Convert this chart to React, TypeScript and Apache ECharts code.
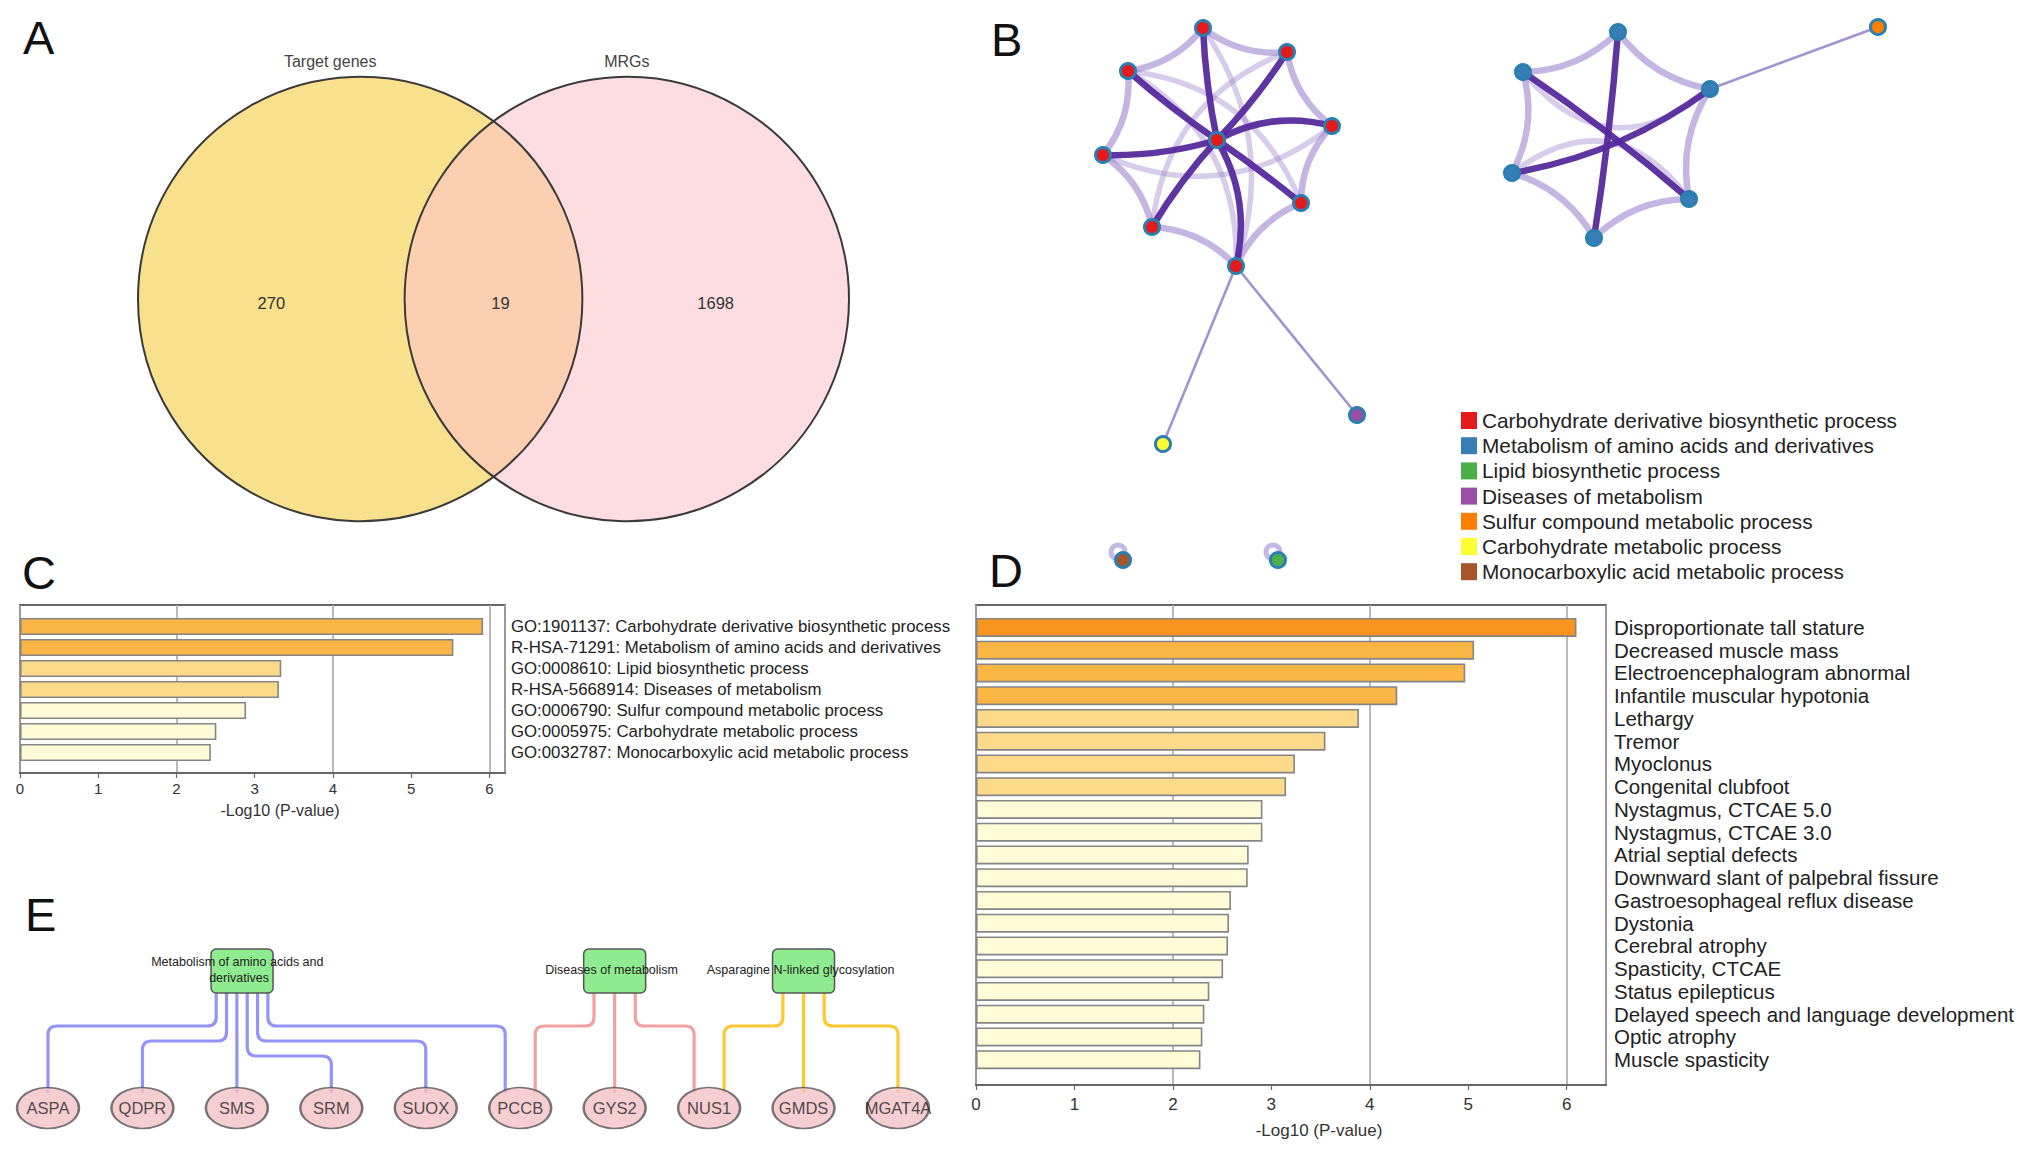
import React, { useEffect, useRef } from "react";
import * as echarts from "echarts";

const FONT = "'Liberation Sans', Arial, Helvetica, sans-serif";

// ---------------- Panel A : Venn ----------------
const vennSetNames = ["Target genes", "MRGs"];
const vennRegionCounts = [270, 19, 1698]; // only left, both, only right
const vennFill = ["#F9E08C", "#FDDDE2", "#FBCFAF"];
const VENN_CX = [1, 2.2]; // layout units (radius = 1)

// ---------------- Panel B : network ----------------
const netCategories = [
  "Carbohydrate derivative biosynthetic process",
  "Metabolism of amino acids and derivatives",
  "Lipid biosynthetic process",
  "Diseases of metabolism",
  "Sulfur compound metabolic process",
  "Carbohydrate metabolic process",
  "Monocarboxylic acid metabolic process",
];
const netCategoryColors = ["#E41A1C", "#377EB8", "#4DAF4A", "#984EA3", "#FF7F00", "#FFFF33", "#A65628"];
// layout coordinates of the nodes
const netNodeX = [217, 203, 287, 128, 332, 103, 301, 152, 236, 163, 357, 618, 523, 710, 512, 689, 594, 878, 123, 278];
const netNodeY = [140, 28, 52, 71, 126, 155, 203, 227, 266, 444, 415, 32, 72, 89, 173, 199, 238, 27, 560, 560];
const netNodeCategory = [0, 0, 0, 0, 0, 0, 0, 0, 0, 5, 3, 1, 1, 1, 1, 1, 1, 4, 6, 2];
const netStrongLinks = [[0, 1], [0, 2], [0, 3], [0, 4], [0, 5], [0, 6], [0, 7], [0, 8], [11, 16], [12, 15], [14, 13]];
const netRingLinks = [[1, 2], [2, 4], [4, 6], [6, 8], [8, 7], [7, 5], [5, 3], [3, 1], [11, 13], [13, 15], [15, 16], [16, 14], [14, 12], [12, 11]];
const netInnerLinks = [[1, 8], [3, 6], [5, 4], [2, 7], [3, 8], [12, 13], [15, 14]];
const netThinLinks = [[8, 9], [8, 10], [13, 17]];
const netSelfLoopNodes = [18, 19];
// style: curvature of the links
const strongCurve = [0.04, -0.05, 0.03, 0.2, 0.08, 0.02, -0.05, 0.2, 0.02, 0.03, -0.12];
const innerCurve = [0.25, 0.3, -0.3, -0.3, 0.3, -0.5, -0.5];

// ---------------- Panel C ----------------
const cTerms = [
  "GO:1901137: Carbohydrate derivative biosynthetic process",
  "R-HSA-71291: Metabolism of amino acids and derivatives",
  "GO:0008610: Lipid biosynthetic process",
  "R-HSA-5668914: Diseases of metabolism",
  "GO:0006790: Sulfur compound metabolic process",
  "GO:0005975: Carbohydrate metabolic process",
  "GO:0032787: Monocarboxylic acid metabolic process",
];
const cValues = [5.92, 5.54, 3.34, 3.31, 2.89, 2.51, 2.44];
const cLevel = [1, 1, 2, 2, 3, 3, 3];

// ---------------- Panel D ----------------
const dTerms = [
  "Disproportionate tall stature",
  "Decreased muscle mass",
  "Electroencephalogram abnormal",
  "Infantile muscular hypotonia",
  "Lethargy",
  "Tremor",
  "Myoclonus",
  "Congenital clubfoot",
  "Nystagmus, CTCAE 5.0",
  "Nystagmus, CTCAE 3.0",
  "Atrial septial defects",
  "Downward slant of palpebral fissure",
  "Gastroesophageal reflux disease",
  "Dystonia",
  "Cerebral atrophy",
  "Spasticity, CTCAE",
  "Status epilepticus",
  "Delayed speech and language development",
  "Optic atrophy",
  "Muscle spasticity",
];
const dValues = [6.1, 5.06, 4.97, 4.28, 3.89, 3.55, 3.24, 3.15, 2.91, 2.91, 2.77, 2.76, 2.59, 2.57, 2.56, 2.51, 2.37, 2.32, 2.3, 2.28];
const dLevel = [0, 1, 1, 1, 2, 2, 2, 2, 3, 3, 3, 3, 3, 3, 3, 3, 3, 3, 3, 3];
const barPalette = ["#F7941D", "#FBB545", "#FDDA8A", "#FEFBD6"];
const pTicks = [0, 1, 2, 3, 4, 5, 6];

// ---------------- Panel E ----------------
const eGenes = ["ASPA", "QDPR", "SMS", "SRM", "SUOX", "PCCB", "GYS2", "NUS1", "GMDS", "MGAT4A"];
const eParents = ["Metabolism of amino acids and derivatives", "Diseases of metabolism", "Asparagine N-linked glycosylation"];
const eParentAnchor = ["SMS", "GYS2", "GMDS"];
const eChildren = [
  ["ASPA", "QDPR", "SMS", "SRM", "SUOX", "PCCB"],
  ["PCCB", "GYS2", "NUS1"],
  ["NUS1", "GMDS", "MGAT4A"],
];
const eEdgeColors = ["#9494F8", "#F3A0A0", "#FFC92E"];

const BOX_W = 62;
const BOX_H = 44;

function parentOffset(p: number) {
  const kids = eChildren[p];
  const n = kids.length;
  const i = kids.indexOf(eParentAnchor[p]);
  return (i - (n - 1) / 2) * (BOX_W / n);
}

function elbow(sx: number, sy: number, hy: number, ex: number, ey: number, r: number) {
  if (Math.abs(sx - ex) < 1) return `M${sx},${sy}L${ex},${ey}`;
  const dir = ex > sx ? 1 : -1;
  const rr = Math.min(r, Math.abs(ex - sx) / 2);
  return `M${sx},${sy}L${sx},${hy - rr}Q${sx},${hy} ${sx + dir * rr},${hy}L${ex - dir * rr},${hy}Q${ex},${hy} ${ex},${hy + rr}L${ex},${ey}`;
}

function buildOption(): any {
  // ---- E edges from the data ----
  const eEdgeData: number[][] = [];
  eChildren.forEach((kids, p) => {
    const anchor = eGenes.indexOf(eParentAnchor[p]);
    const n = kids.length;
    kids.forEach((kid, i) => {
      const ci = eGenes.indexOf(kid);
      const level = ci < anchor ? i : ci > anchor ? n - 1 - i : 0;
      const owners = eChildren.map((k, pi) => (k.includes(kid) ? pi : -1)).filter((v) => v >= 0);
      const side = owners.length > 1 ? (owners.indexOf(p) === 0 ? -1 : 1) : 0;
      eEdgeData.push([anchor, 0, ci, i, n, level, side, p]);
    });
  });

  // ---- network ----
  const nodes = netNodeX.map((x, i) => ({
    name: "n" + i,
    value: [x, netNodeY[i]],
    category: netNodeCategory[i],
  }));
  const links: any[] = [];
  netRingLinks.forEach(([s, t]) =>
    links.push({ source: s, target: t, lineStyle: { color: "#9F88D0", opacity: 0.62, width: 6.5, curveness: -0.2 } })
  );
  netInnerLinks.forEach(([s, t], k) =>
    links.push({ source: s, target: t, lineStyle: { color: "#9F88D0", opacity: 0.42, width: 5.5, curveness: innerCurve[k] } })
  );
  netThinLinks.forEach(([s, t]) =>
    links.push({ source: s, target: t, lineStyle: { color: "#8A78C6", opacity: 0.8, width: 2.6, curveness: 0 } })
  );
  netStrongLinks.forEach(([s, t], k) =>
    links.push({ source: s, target: t, lineStyle: { color: "#552A9C", opacity: 0.95, width: 6.5, curveness: strongCurve[k] } })
  );

  const letter = (t: string, x: number, y: number) => ({
    type: "text",
    x,
    y,
    style: { text: t, fontSize: 47, fontFamily: FONT, fill: "#111", align: "left", verticalAlign: "middle" },
  });

  const hiddenVal = (gridIndex: number, min: number, max: number, inverse = false) => ({
    type: "value",
    gridIndex,
    min,
    max,
    inverse,
    show: false,
  });

  const frameBottomAxis = (gridIndex: number, max: number, fontSize: number, margin: number, nameGap: number, nameShift: number, nameSize: number) => ({
    type: "value",
    gridIndex,
    min: 0,
    max,
    interval: 1,
    position: "bottom",
    axisLine: { show: true, lineStyle: { color: "#666", width: 2 } },
    axisTick: { show: true, length: 5, lineStyle: { color: "#666", width: 1.2 } },
    axisLabel: {
      show: true,
      fontSize,
      color: "#333",
      margin,
      showMaxLabel: false,
      formatter: (v: number) => (pTicks.includes(v) ? String(v) : ""),
    },
    splitLine: { show: false },
    name: "-Log10 (P-value)",
    nameLocation: "middle",
    nameGap,
    nameTextStyle: { fontSize: nameSize, color: "#333", padding: [0, 0, 0, nameShift] },
  });

  const frameTopAxis = (gridIndex: number, max: number) => ({
    type: "value",
    gridIndex,
    min: 0,
    max,
    interval: 2,
    position: "top",
    axisLine: { show: false },
    axisTick: { show: false },
    axisLabel: { show: false },
    splitLine: { show: true, lineStyle: { color: "#A8A8A8", width: 1.6 } },
  });

  const catAxis = (gridIndex: number, data: string[], fontSize: number, margin: number) => ({
    type: "category",
    gridIndex,
    data,
    inverse: true,
    position: "right",
    axisLine: { show: false },
    axisTick: { show: false },
    axisLabel: { show: true, interval: 0, fontSize, color: "#222", margin, align: "left" },
    splitLine: { show: false },
  });

  const barStyle = { borderColor: "#858585", borderWidth: 1.6 };

  return {
    animation: false,
    backgroundColor: "#ffffff",
    textStyle: { fontFamily: FONT },
    graphic: [letter("A", 23, 37), letter("B", 991, 39), letter("C", 22, 572), letter("D", 989, 570), letter("E", 25, 914)],
    legend: {
      data: netCategories,
      orient: "vertical",
      left: 1456,
      top: 405,
      itemWidth: 16,
      itemHeight: 17,
      itemGap: 4.2,
      icon: "rect",
      selectedMode: false,
      itemStyle: { borderWidth: 0 },
      textStyle: { fontSize: 20.8, color: "#222", fontFamily: FONT },
    },
    grid: [
      { left: 138, top: 77, width: 711, height: 444, show: false, outerBoundsMode: "none" },
      { left: 1000, top: 0, width: 1000, height: 600, show: false, outerBoundsMode: "none" },
      { left: 20, top: 605, width: 485, height: 168, show: true, borderColor: "#666", borderWidth: 2, backgroundColor: "transparent", outerBoundsMode: "none" },
      { left: 20, top: 616, width: 485, height: 147, show: false, outerBoundsMode: "none" },
      { left: 976, top: 605, width: 630, height: 480, show: true, borderColor: "#666", borderWidth: 2, backgroundColor: "transparent", outerBoundsMode: "none" },
      { left: 976, top: 616, width: 630, height: 455, show: false, outerBoundsMode: "none" },
      { left: 48, top: 971, width: 850, height: 137, show: false, outerBoundsMode: "none" },
    ],
    xAxis: [
      hiddenVal(0, 0, 3.2),
      hiddenVal(1, 0, 1000),
      frameBottomAxis(2, 6.2, 15, 8, 29, 35, 16),
      frameTopAxis(2, 6.2),
      hiddenVal(3, 0, 6.2),
      frameBottomAxis(4, 6.4, 17, 11, 37, 56, 17),
      frameTopAxis(4, 6.4),
      hiddenVal(5, 0, 6.4),
      hiddenVal(6, 0, 9),
    ],
    yAxis: [
      hiddenVal(0, -1, 1),
      hiddenVal(1, 0, 600, true),
      hiddenVal(2, 0, 1),
      catAxis(3, cTerms, 16.8, 6),
      hiddenVal(4, 0, 1),
      catAxis(5, dTerms, 20.5, 8),
      hiddenVal(6, 0, 1, true),
    ],
    series: [
      // ---------- A ----------
      {
        type: "custom",
        xAxisIndex: 0,
        yAxisIndex: 0,
        data: [[VENN_CX[0], 0]],
        renderItem: (_p: any, api: any) => {
          const r = api.size([1, 0])[0];
          const cL = api.coord([VENN_CX[0], 0]);
          const cR = api.coord([VENN_CX[1], 0]);
          const a = (cR[0] - cL[0]) / 2;
          const h = Math.sqrt(r * r - a * a);
          const mx = cL[0] + a;
          const cy = cL[1];
          const lens = `M${mx},${cy - h}A${r},${r} 0 0 1 ${mx},${cy + h}A${r},${r} 0 0 1 ${mx},${cy - h}Z`;
          const txt = (text: string, x: number, y: number, size: number, fill: string) => ({
            type: "text",
            style: { text, x, y, fontSize: size, fontFamily: FONT, fill, align: "center", verticalAlign: "middle" },
          });
          return {
            type: "group",
            children: [
              { type: "circle", shape: { cx: cL[0], cy, r }, style: { fill: vennFill[0] } },
              { type: "circle", shape: { cx: cR[0], cy, r }, style: { fill: vennFill[1] } },
              { type: "path", shape: { pathData: lens }, style: { fill: vennFill[2] } },
              { type: "circle", shape: { cx: cL[0], cy, r }, style: { fill: "none", stroke: "#3a3a3a", lineWidth: 2 } },
              { type: "circle", shape: { cx: cR[0], cy, r }, style: { fill: "none", stroke: "#3a3a3a", lineWidth: 2 } },
              txt(vennSetNames[0], cL[0] - 30, cy - r - 15, 16, "#444"),
              txt(vennSetNames[1], cR[0], cy - r - 15, 16, "#444"),
              txt(String(vennRegionCounts[0]), (cL[0] - r + cR[0] - r) / 2, cy + 4, 16.5, "#333"),
              txt(String(vennRegionCounts[1]), (cR[0] - r + cL[0] + r) / 2 + 7, cy + 4, 16.5, "#333"),
              txt(String(vennRegionCounts[2]), (cL[0] + r + cR[0] + r) / 2, cy + 4, 16.5, "#333"),
            ],
          };
        },
      },
      // ---------- B ----------
      {
        type: "scatter",
        xAxisIndex: 1,
        yAxisIndex: 1,
        data: netSelfLoopNodes.map((i) => [netNodeX[i], netNodeY[i]]),
        symbol: "circle",
        symbolSize: 14,
        symbolOffset: [-5, -8],
        itemStyle: { color: "rgba(0,0,0,0)", borderColor: "rgba(140,120,205,0.65)", borderWidth: 5 },
        silent: true,
        z: 1,
      },
      {
        type: "graph",
        layout: "none",
        coordinateSystem: "cartesian2d",
        xAxisIndex: 1,
        yAxisIndex: 1,
        symbol: "circle",
        symbolSize: 15,
        categories: netCategories.map((name, i) => ({ name, itemStyle: { color: netCategoryColors[i] } })),
        data: nodes,
        links,
        itemStyle: { borderColor: "#2A7FAE", borderWidth: 3 },
        label: { show: false },
        emphasis: { disabled: true },
        z: 3,
      },
      // ---------- C ----------
      {
        type: "bar",
        xAxisIndex: 4,
        yAxisIndex: 3,
        barWidth: 17,
        data: cValues.map((v, i) => ({ value: v, itemStyle: { color: barPalette[cLevel[i]], ...barStyle } })),
        z: 3,
      },
      // ---------- D ----------
      {
        type: "bar",
        xAxisIndex: 7,
        yAxisIndex: 5,
        barWidth: 19,
        data: dValues.map((v, i) => ({ value: v, itemStyle: { color: barPalette[dLevel[i]], ...barStyle } })),
        z: 3,
      },
      // ---------- E edges ----------
      {
        type: "custom",
        xAxisIndex: 8,
        yAxisIndex: 6,
        data: eEdgeData,
        z: 2,
        renderItem: (_p: any, api: any) => {
          const anchor = api.value(0);
          const ci = api.value(2);
          const i = api.value(3);
          const n = api.value(4);
          const level = api.value(5);
          const side = api.value(6);
          const p = api.value(7);
          const pc = api.coord([anchor, 0]);
          const cc = api.coord([ci, 1]);
          const boxX = pc[0] - parentOffset(p);
          const sx = boxX + (i - (n - 1) / 2) * (BOX_W / n);
          const sy = pc[1] + BOX_H / 2;
          const hy = sy + 33 + level * 15;
          const ex = cc[0] + side * 15;
          const ey = cc[1] - 15;
          return {
            type: "path",
            shape: { pathData: elbow(sx, sy, hy, ex, ey, 9) },
            style: { fill: "none", stroke: eEdgeColors[p], lineWidth: 3.2 },
          };
        },
      },
      // ---------- E parent boxes ----------
      {
        type: "custom",
        xAxisIndex: 8,
        yAxisIndex: 6,
        data: eParents.map((_n, p) => [eGenes.indexOf(eParentAnchor[p]), 0]),
        z: 4,
        renderItem: (params: any, api: any) => {
          const p = params.dataIndex;
          const pc = api.coord([api.value(0), 0]);
          const bx = pc[0] - parentOffset(p);
          return {
            type: "group",
            children: [
              {
                type: "rect",
                shape: { x: bx - BOX_W / 2, y: pc[1] - BOX_H / 2, width: BOX_W, height: BOX_H, r: 5 },
                style: { fill: "#8FEB8F", stroke: "#555", lineWidth: 1.5 },
              },
              {
                type: "text",
                style: {
                  text: eParents[p],
                  x: bx - 3,
                  y: pc[1] - 1,
                  width: 205,
                  overflow: "break",
                  lineHeight: 16,
                  fontSize: 12.5,
                  fontFamily: FONT,
                  fill: "#222",
                  align: "center",
                  verticalAlign: "middle",
                },
              },
            ],
          };
        },
      },
      // ---------- E genes ----------
      {
        type: "scatter",
        xAxisIndex: 8,
        yAxisIndex: 6,
        data: eGenes.map((g, i) => ({ name: g, value: [i, 1] })),
        symbol: "circle",
        symbolSize: [62, 41],
        itemStyle: { color: "#F4C2C6", borderColor: "#555", borderWidth: 2 },
        label: { show: true, position: "inside", formatter: "{b}", fontSize: 16.5, color: "#222", fontFamily: FONT },
        emphasis: { disabled: true },
        z: 5,
      },
    ],
  };
}

export default function App() {
  const ref = useRef<HTMLDivElement>(null);
  useEffect(() => {
    document.body.style.margin = "0";
    const chart = echarts.init(ref.current as HTMLDivElement, undefined, { renderer: "svg", width: 2032, height: 1155 });
    chart.setOption(buildOption());
    return () => chart.dispose();
  }, []);
  return <div ref={ref} style={{ width: 2032, height: 1155, background: "#fff" }} />;
}
